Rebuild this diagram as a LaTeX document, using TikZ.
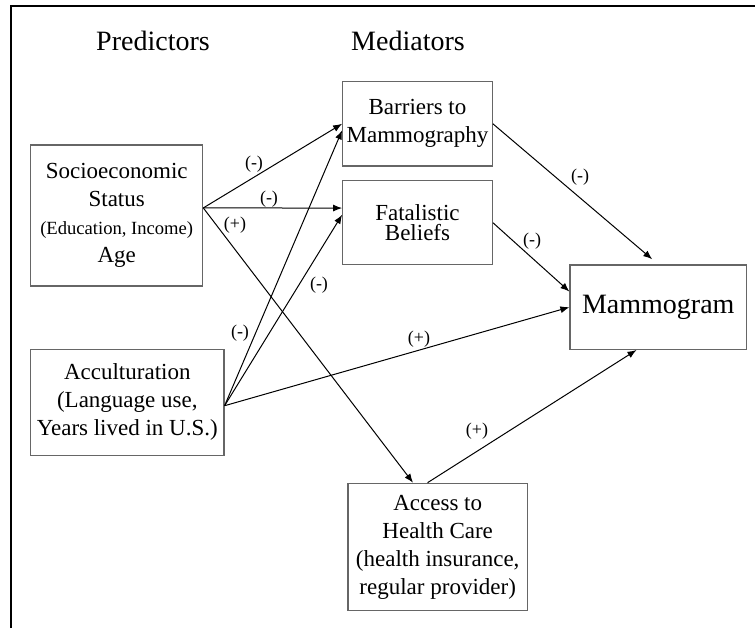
\documentclass[tikz,border=0pt]{standalone}
\usepackage{fontspec}
\setmainfont{Liberation Serif}
\usetikzlibrary{arrows.meta}

\begin{document}
\begin{tikzpicture}[x=0.5pt,y=-0.5pt,
  box/.style={draw=black!60, line width=0.6pt, inner sep=0pt, align=center, font=\fontsize{11.5}{14}\selectfont},
  arr/.style={-{Latex[length=4.5pt,width=3.5pt]}, line width=0.5pt},
  sign/.style={inner sep=0pt, font=\fontsize{9}{10}\selectfont}]
\useasboundingbox (0,0) rectangle (755,628);
\draw[line width=1pt] (11,628) -- (11,6) -- (755,6);

\node[anchor=base, font=\fontsize{14}{16}\selectfont] (hpred) at (153,50) {Predictors};
\node[anchor=base, font=\fontsize{14}{16}\selectfont] (hmed) at (408,50) {Mediators};

\node[box, minimum width=86pt, minimum height=70.5pt] (ses) at (116.7,215.5)
  {Socioeconomic\\ Status\\ {\fontsize{9.3}{11}\selectfont (Education, Income)}\\ Age};
\node[box, minimum width=96.7pt, minimum height=53pt] (acc) at (127.3,402.3)
  {Acculturation\\ (Language use,\\ Years lived in U.S.)};
\node[box, minimum width=74.8pt, minimum height=42.2pt] (bar) at (417.5,123.8)
  {Barriers to\\ Mammography};
\node[box, minimum width=74.8pt, minimum height=42pt, font=\fontsize{11.5}{10}\selectfont] (fat) at (417.5,222.7)
  {Fatalistic\\ Beliefs};
\node[box, minimum width=88.3pt, minimum height=42.2pt, font=\fontsize{14}{16}\selectfont] (mam) at (658.3,307.2)
  {Mammogram};
\node[box, minimum width=89.7pt, minimum height=63.7pt] (hc) at (437.7,547)
  {Access to\\ Health Care\\ (health insurance,\\ regular provider)};

%arrows
\draw[arr] (ses.5) -- (bar.west);
\draw[arr] (ses.5) -- (fat.169);
\draw[arr] (ses.5) -- (hc.111);
\draw[arr] (acc.358) -- (bar.185);
\draw[arr] (acc.358) -- (fat.174);
\draw[arr] (acc.358) -- (mam.west);
\draw[arr, shorten >=4pt] (bar.east) -- (mam.north);
\draw[arr] (fat.east) -- (mam.170);
\draw[arr] (hc.99) -- (mam.243);

\node[sign] (s1) at (254,164) {(-)};
\node[sign] (s2) at (269,199) {(-)};
\node[sign] (s3) at (235,225) {(+)};
\node[sign] (s4) at (319,285) {(-)};
\node[sign] (s5) at (240,333) {(-)};
\node[sign] (s6) at (419,339) {(+)};
\node[sign] (s7) at (580,177) {(-)};
\node[sign] (s8) at (532,241) {(-)};
\node[sign] (s9) at (477,431) {(+)};
\end{tikzpicture}
\end{document}
